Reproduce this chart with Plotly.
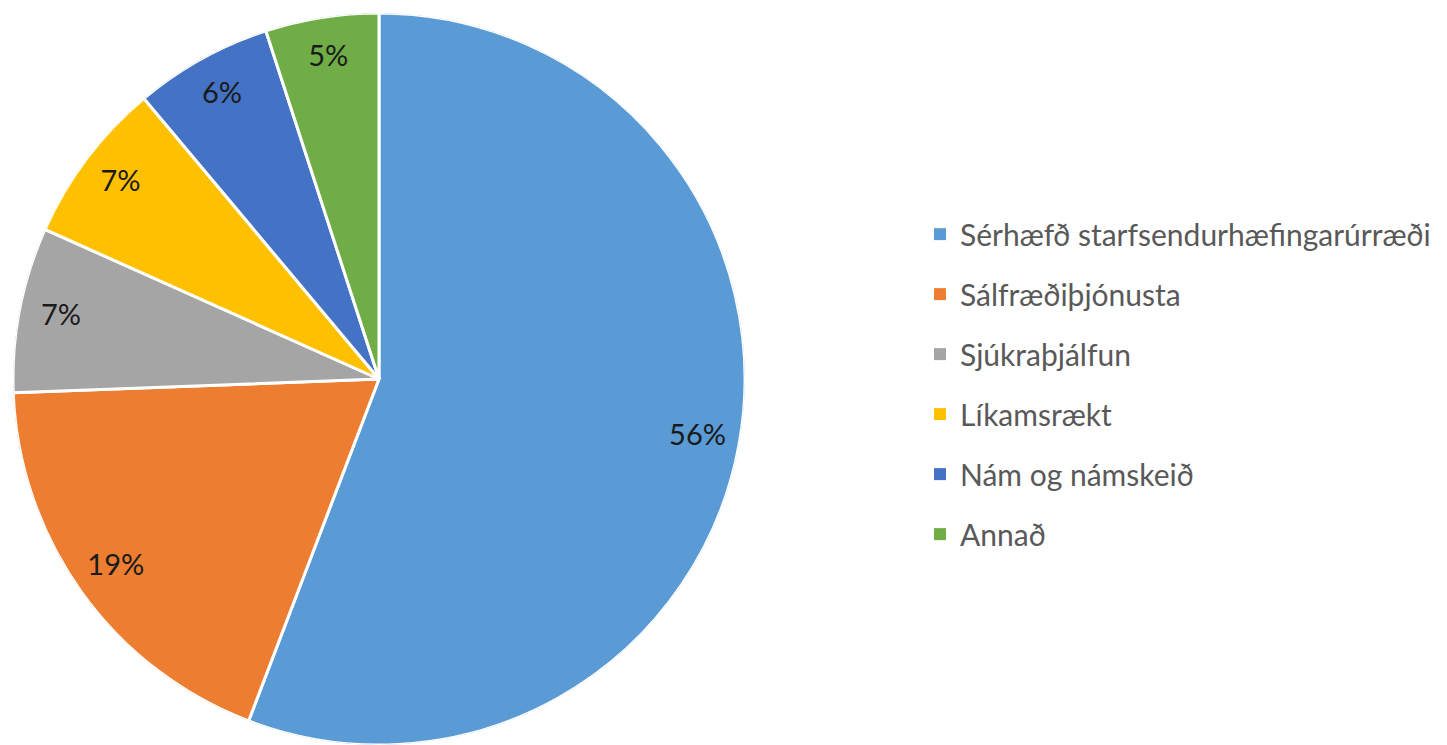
import plotly.graph_objects as go

categories = ["Sérhæfð starfsendurhæfingarúrræði", "Sálfræðiþjónusta", "Sjúkraþjálfun",
              "Líkamsrækt", "Nám og námskeið", "Annað"]
values = [55.8, 18.6, 7.3, 7.2, 6.1, 5.0]
colors = ["#5B9BD5", "#ED7D31", "#A5A5A5", "#FFC000", "#4472C4", "#70AD47"]

W, H = 1447, 745
FONT = "Lato, Calibri, sans-serif"

dom_x = [13 / W, 745 / W]
dom_y = [0, 1]

total = sum(values)
cum = 0
thetas, widths = [], []
for v in values:
    thetas.append((cum + v / 2) / total * 360)
    widths.append(v / total * 360)
    cum += v
texts = [f"{round(v / total * 100)}%" for v in values]

fig = go.Figure()
# pie slices drawn on a polar scale
fig.add_trace(go.Barpolar(
    r=[1] * len(values), theta=thetas, width=widths, base=0,
    marker=dict(color=colors, line=dict(color="white", width=3)),
    text=categories, hovertemplate="%{text}<extra></extra>", showlegend=False,
))
# percentage labels near the outer edge of each slice
fig.add_trace(go.Scatterpolar(
    r=[0.885] * len(values), theta=thetas, mode="text", text=texts,
    textfont=dict(family=FONT, size=29, color="#1a1a1a"), showlegend=False,
    hoverinfo="skip",
))

# legend entries
for c, col in zip(categories, colors):
    fig.add_trace(go.Scatter(
        x=[None], y=[None], mode="markers", name=c, legendgroup=c,
        marker=dict(symbol="square", size=11, color=col),
    ))

fig.update_layout(
    width=W, height=H,
    margin=dict(l=0, r=0, t=13, b=0),
    paper_bgcolor="white", plot_bgcolor="white",
    polar=dict(
        domain=dict(x=dom_x, y=dom_y),
        bgcolor="rgba(0,0,0,0)", bargap=0,
        radialaxis=dict(visible=False, range=[0, 1]),
        angularaxis=dict(visible=False, rotation=90, direction="clockwise"),
    ),
    xaxis=dict(visible=False), yaxis=dict(visible=False),
    legend=dict(
        x=920 / W, xanchor="left", y=0.493, yanchor="middle",
        font=dict(family=FONT, size=30, color="#595959"),
        tracegroupgap=18, itemsizing="constant", bgcolor="rgba(0,0,0,0)",
    ),
    showlegend=True,
)

fig.write_html("out.html")
